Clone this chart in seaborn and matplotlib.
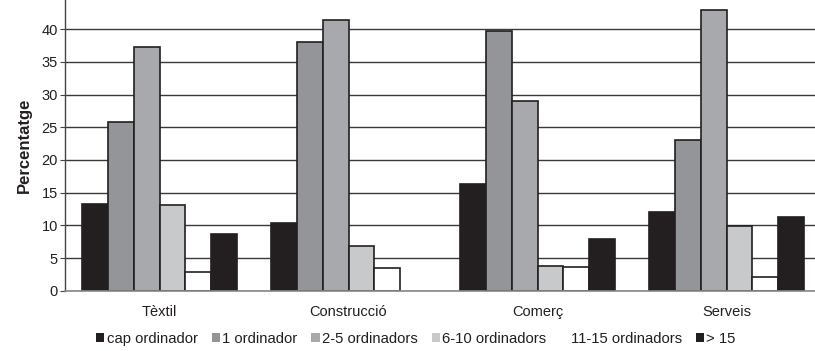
import matplotlib
matplotlib.use("Agg")
import matplotlib.pyplot as plt
import seaborn as sns
import pandas as pd
from matplotlib.patches import Patch

sectors = ["Tèxtil", "Construcció", "Comerç", "Serveis"]
groups = ["cap ordinador", "1 ordinador", "2-5 ordinadors", "6-10 ordinadors", "11-15 ordinadors", "> 15"]
cap_ordinador = [13.2, 10.3, 16.3, 12.1]
un_ordinador = [25.8, 38.0, 39.7, 23.0]
ord_2_5 = [37.2, 41.4, 29.0, 42.9]
ord_6_10 = [13.1, 6.8, 3.8, 9.9]
ord_11_15 = [2.9, 3.5, 3.7, 2.1]
mes_15 = [8.6, 0.0, 7.9, 11.2]
y_ticks = [0, 5, 10, 15, 20, 25, 30, 35, 40]

series = [cap_ordinador, un_ordinador, ord_2_5, ord_6_10, ord_11_15, mes_15]
rows = []
for g, vals in zip(groups, series):
    for s, v in zip(sectors, vals):
        rows.append({"Sector": s, "Grup": g, "Valor": v})
df = pd.DataFrame(rows)

colors = ["#231f20", "#939598", "#a7a9ac", "#c8c9cb", "#ffffff", "#231f20"]

sns.set_theme(style="white")
plt.rcParams["font.family"] = ["Liberation Sans", "DejaVu Sans"]

fig = plt.figure(figsize=(8.15, 3.51), dpi=100)
ax = fig.add_axes([65 / 815, 60.3 / 351, (821 - 65) / 815, 290.7 / 351])

sns.barplot(data=df, x="Sector", y="Valor", hue="Grup", hue_order=groups,
            order=sectors, palette=colors, width=0.815, ax=ax,
            edgecolor="#231f20", linewidth=1.2, legend=False, saturation=1)

# hide zero-height bar
for p in ax.patches:
    if p.get_height() == 0:
        p.set_visible(False)

ax.set_ylim(0, 44.45)
ax.set_xlim(-0.5, 3.5)
ax.set_yticks(y_ticks)
ax.yaxis.grid(True, color="#3a3a3a", linewidth=1.0)
ax.set_axisbelow(True)
ax.tick_params(axis="y", labelsize=10.5, left=True, length=3.6, width=0.8,
               color="#444444", pad=1.5, labelcolor="#231f20")
ax.set_xticks(range(len(sectors)))
ax.set_xticklabels(sectors)
ax.tick_params(axis="x", which="major", length=0, labelsize=10.5, pad=10,
               labelcolor="#231f20")
ax.set_xticks([-0.5, 0.5, 1.5, 2.5, 3.5], minor=True)
ax.tick_params(axis="x", which="minor", length=4, width=0.8, color="#444444")
ax.set_xlabel("")
ax.set_ylabel("Percentatge", fontsize=12, fontweight="bold", labelpad=7,
              color="#231f20")

for side in ["top", "right"]:
    ax.spines[side].set_visible(False)
ax.spines["left"].set_color("#444444")
ax.spines["left"].set_linewidth(1.0)
ax.spines["bottom"].set_color("#888888")
ax.spines["bottom"].set_linewidth(1.2)

handles = [Patch(facecolor=c, edgecolor="none") for c in colors]
fig.legend(handles, groups, loc="center", bbox_to_anchor=(416 / 815, 1 - 339 / 351),
           ncol=6, frameon=False, fontsize=10.7, handlelength=0.55, handleheight=0.55,
           handletextpad=0.15, columnspacing=0.95, labelcolor="#231f20",
           borderpad=0, borderaxespad=0)

fig.savefig("out.png", dpi=100)
